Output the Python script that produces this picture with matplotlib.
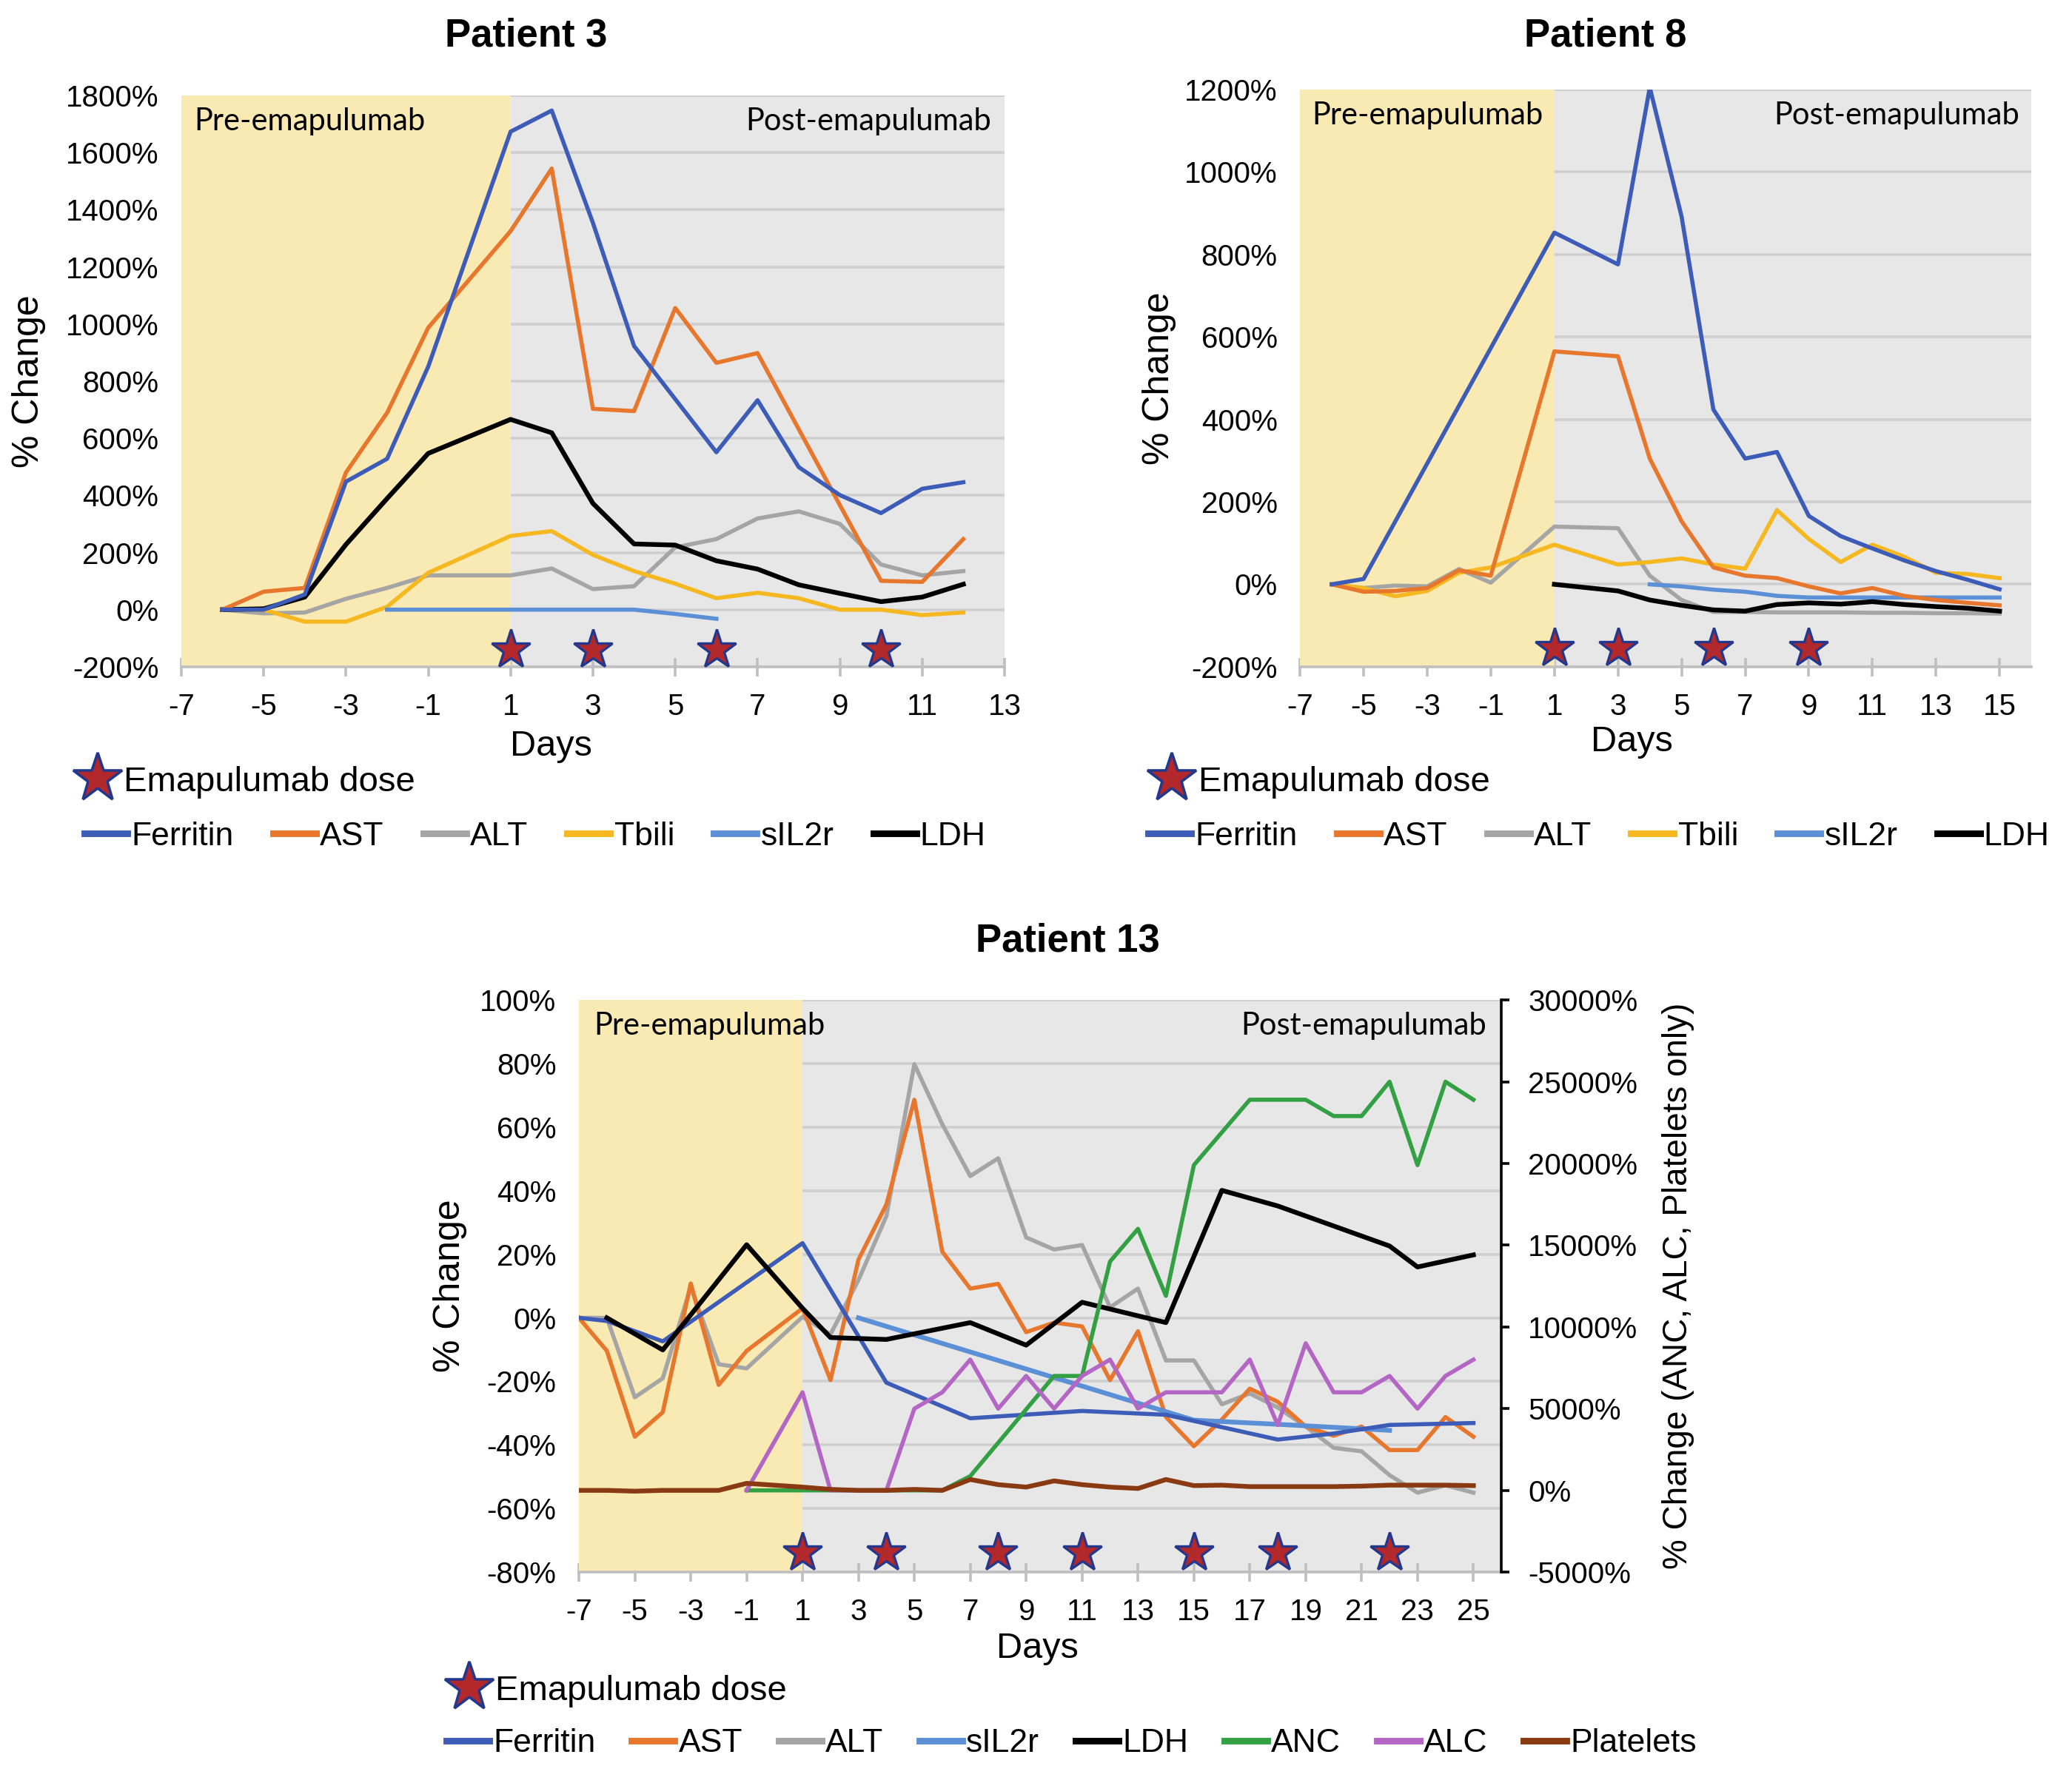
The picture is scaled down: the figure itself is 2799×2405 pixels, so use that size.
import matplotlib.pyplot as plt
from matplotlib.lines import Line2D
from matplotlib.ticker import FuncFormatter

plt.rcParams['font.family'] = ['Liberation Sans', 'DejaVu Sans']
plt.rcParams['axes.unicode_minus'] = False

# colours (Excel-like palette)
COLORS = {
    'Ferritin': '#3D5CB8',
    'AST': '#E8772E',
    'ALT': '#A5A5A5',
    'Tbili': '#F5B820',
    'sIL2r': '#5B8FD6',
    'LDH': '#000000',
    'ANC': '#32A043',
    'ALC': '#B366C4',
    'Platelets': '#8A3A12',
}
PRE_COLOR = '#F9E9B2'
POST_COLOR = '#E7E7E7'
GRID_COLOR = '#CFCFCF'
STAR_FACE = '#B3282A'
STAR_EDGE = '#23388C'

# ---------------- Patient 3 ----------------
p3_days = [-6, -5, -4, -3, -2, -1, 1, 2, 3, 4, 5, 6, 7, 8, 9, 10, 11, 12]
p3_ferritin = [0, 0, 53, 448, 528, 851, 1673, 1747, 1354, 923, 737, 551, 733, 499, 401, 338, 423, 446]
p3_ast = [0, 63, 76, 480, 689, 987, 1325, 1544, 703, 695, 1056, 864, 898, 632, 366, 101, 97, 247]
p3_alt = [0, -13, -10, 38, 76, 120, 120, 144, 72, 82, 218, 247, 319, 344, 300, 158, 120, 135]
p3_tbili = [0, 0, -42, -42, 10, 129, 258, 275, 192, 135, 91, 40, 59, 40, 0, 0, -19, -10]
p3_ldh = [0, 3, 44, 228, 389, 547, 666, 619, 372, 230, 226, 171, 142, 87, 57, 28, 44, 89]
p3_sil2r_days = [-2, 4, 5, 6]
p3_sil2r = [0, 0, -15, -32]
p3_doses = [1, 3, 6, 10]

# ---------------- Patient 8 ----------------
p8_ferritin_days = [-6, -5, 1, 3, 4, 5, 6, 7, 8, 9, 10, 11, 12, 13, 14, 15]
p8_ferritin = [0, 13, 853, 776, 1205, 892, 424, 305, 321, 166, 117, 87, 58, 32, 11, -12]
p8_days = [-6, -5, -4, -3, -2, -1, 1, 3, 4, 5, 6, 7, 8, 9, 10, 11, 12, 13, 14, 15]
p8_ast = [0, -18, -16, -9, 34, 21, 565, 553, 305, 153, 41, 21, 15, -5, -22, -9, -28, -38, -45, -51]
p8_alt = [0, -9, -3, -5, 37, 4, 140, 136, 21, -38, -67, -67, -68, -68, -68, -69, -69, -70, -70, -71]
p8_tbili = [0, -9, -29, -16, 28, 41, 96, 48, 54, 63, 48, 38, 180, 110, 54, 96, 67, 28, 25, 15]
p8_sil2r_days = [4, 5, 6, 7, 8, 9, 10, 11, 12, 13, 14, 15]
p8_sil2r = [0, -5, -13, -18, -28, -32, -32, -32, -32, -32, -32, -32]
p8_ldh_days = [1, 2, 3, 4, 5, 6, 7, 8, 9, 10, 11, 12, 13, 14, 15]
p8_ldh = [0, -8, -16, -38, -51, -62, -65, -49, -45, -48, -42, -49, -54, -58, -65]
p8_doses = [1, 3, 6, 9]

# ---------------- Patient 13 ----------------
p13_days = [-7, -6, -5, -4, -3, -2, -1, 1, 2, 3, 4, 5, 6, 7, 8, 9, 10, 11, 12,
            13, 14, 15, 16, 17, 18, 19, 20, 21, 22, 23, 24, 25]
p13_ast = [0, -10.4, -37.4, -29.7, 10.8, -21.1, -10.4, 3, -19.6, 18.3, 35.7, 68.6, 20.8, 9.2,
           10.7, -4.5, -1.5, -2.7, -19.6, -4.2, -31.2, -40.4, -32, -22.3, -26.4, -34.2, -37.1,
           -34.2, -41.6, -41.6, -31.2, -37.4]
p13_alt = [0, 0, -25, -19, 9.7, -14.6, -15.9, 0.3, -5.2, 11.9, 32, 79.8, 60.9, 44.6, 50.2,
           25.3, 21.5, 22.9, 3.3, 9.2, -13.4, -13.4, -27.2, -23.8, -28.2, -34.2, -40.9, -42,
           -49.5, -55, -52.7, -55]
p13_ferritin_days = [-7, -6, -4, 1, 4, 7, 11, 14, 18, 20, 22, 25]
p13_ferritin = [0, -1, -7.4, 23.5, -20.4, -31.6, -29.3, -30.5, -38.3, -36.4, -33.7, -33.1]
p13_sil2r_days = [3, 15, 18, 22]
p13_sil2r = [0, -32.2, -33.5, -35.4]
p13_ldh_days = [-6, -4, -1, 1, 2, 4, 7, 9, 11, 14, 16, 18, 22, 23, 25]
p13_ldh = [0, -10.1, 23, 3, -6.2, -6.8, -1.5, -8.6, 4.9, -1.5, 40.1, 35.2, 22.6, 16, 19.8]
# right axis series
p13_anc_days = [-1, 6, 7, 10, 11, 12, 13, 14, 15, 17, 18, 19, 20, 21, 22, 23, 24, 25]
p13_anc = [0, 0, 870, 7000, 7000, 14000, 16000, 11900, 19900, 23900, 23900, 23900,
           22900, 22900, 25000, 19900, 25000, 23900]
p13_alc_days = [-1, 1, 2, 3, 4, 5, 6, 7, 8, 9, 10, 11, 12, 13, 14, 15, 16, 17, 18, 19,
                20, 21, 22, 23, 24, 25]
p13_alc = [0, 6000, 0, 0, 0, 5000, 6000, 8000, 5000, 7000, 5000, 7000, 8000, 5000, 6000,
           6000, 6000, 8000, 4000, 9000, 6000, 6000, 7000, 5000, 7000, 8000]
p13_platelets = [0, 0, -50, 0, 0, 0, 430, 200, 60, 0, 0, 60, 0, 665, 350, 200, 580, 350, 200,
                 116, 665, 290, 320, 230, 230, 230, 230, 260, 320, 320, 320, 290]
p13_doses = [1, 4, 8, 11, 15, 18, 22]

LW = 2.0
pct = FuncFormatter(lambda v, _: f'{v:.0f}%')


def style_axes(ax, xmax, ylim, yticks, xticks, star_y, doses):
    ax.set_facecolor(POST_COLOR)
    ax.axvspan(-7, 1, color=PRE_COLOR, lw=0, zorder=1)
    ax.set_xlim(-7, xmax)
    ax.set_ylim(*ylim)
    ax.set_yticks(yticks)
    ax.set_xticks(xticks)
    ax.yaxis.set_major_formatter(pct)
    ax.set_axisbelow(True)
    ax.yaxis.grid(True, color=GRID_COLOR, lw=1.3)
    for s in ['left', 'right', 'top']:
        ax.spines[s].set_visible(False)
    ax.spines['bottom'].set_color('#BFBFBF')
    ax.spines['bottom'].set_linewidth(1.3)
    ax.tick_params(axis='y', length=0, pad=11, labelsize=14.5)
    ax.tick_params(axis='x', direction='inout', length=9, color='#BFBFBF', width=1.3,
                   pad=8, labelsize=14.5)
    ax.plot(doses, [star_y] * len(doses), ls='none', marker='*', ms=20,
            mfc=STAR_FACE, mec=STAR_EDGE, mew=1.2, zorder=6, clip_on=False)
    ax.text(0.016, 0.955, 'Pre-emapulumab', transform=ax.transAxes, family='Lato',
            fontsize=15, ha='left', va='center', zorder=7)
    ax.text(0.984, 0.955, 'Post-emapulumab', transform=ax.transAxes, family='Lato',
            fontsize=15, ha='right', va='center', zorder=7)


def add_legends(fig, names, row_x, row_y, star_x, star_y, colspace):
    handles = [Line2D([0], [0], color=COLORS[n], lw=3.2) for n in names]
    fig.legend(handles, names, loc='center', bbox_to_anchor=(row_x, row_y), ncol=len(names),
               frameon=False, fontsize=16, handlelength=1.3, handletextpad=0.12,
               columnspacing=colspace, borderaxespad=0, borderpad=0)
    star = Line2D([0], [0], ls='none', marker='*', ms=25, mfc=STAR_FACE, mec=STAR_EDGE, mew=1.3)
    fig.legend([star], ['Emapulumab dose'], loc='center left', bbox_to_anchor=(star_x, star_y),
               frameon=False, fontsize=17, handlelength=0.9, handletextpad=0.3,
               borderaxespad=0, borderpad=0)


fig = plt.figure(figsize=(13.995, 12.025), dpi=200)

# ---- Patient 3 ----
ax3 = fig.add_axes([0.0875, 0.6254, 0.3973, 0.3210])
style_axes(ax3, 13, (-200, 1800), range(-200, 1801, 200), range(-7, 14, 2), -140, p3_doses)
ax3.plot(p3_days, p3_alt, color=COLORS['ALT'], lw=LW, zorder=3)
ax3.plot(p3_days, p3_tbili, color=COLORS['Tbili'], lw=LW, zorder=3)
ax3.plot(p3_sil2r_days, p3_sil2r, color=COLORS['sIL2r'], lw=LW, zorder=3)
ax3.plot(p3_days, p3_ldh, color=COLORS['LDH'], lw=LW + 0.3, zorder=3)
ax3.plot(p3_days, p3_ast, color=COLORS['AST'], lw=LW, zorder=3)
ax3.plot(p3_days, p3_ferritin, color=COLORS['Ferritin'], lw=LW, zorder=3)
ax3.set_ylabel('% Change', fontsize=18, va='center')
ax3.yaxis.set_label_coords(-0.185, 0.5)
ax3.set_xlabel('Days', fontsize=17.5, va='center')
ax3.xaxis.set_label_coords(0.449, -0.139)
fig.text(0.2538, 0.980, 'Patient 3', fontsize=19, fontweight='bold', ha='center', va='center')
add_legends(fig, ['Ferritin', 'AST', 'ALT', 'Tbili', 'sIL2r', 'LDH'],
            0.2583, 0.530, 0.0395, 0.5605, 1.2)

# ---- Patient 8 ----
ax8 = fig.add_axes([0.6274, 0.6254, 0.3530, 0.3243])
style_axes(ax8, 16, (-200, 1200), range(-200, 1201, 200), range(-7, 16, 2), -155, p8_doses)
ax8.plot(p8_days, p8_alt, color=COLORS['ALT'], lw=LW, zorder=3)
ax8.plot(p8_days, p8_tbili, color=COLORS['Tbili'], lw=LW, zorder=3)
ax8.plot(p8_sil2r_days, p8_sil2r, color=COLORS['sIL2r'], lw=LW, zorder=3)
ax8.plot(p8_ldh_days, p8_ldh, color=COLORS['LDH'], lw=LW + 0.3, zorder=3)
ax8.plot(p8_days, p8_ast, color=COLORS['AST'], lw=LW, zorder=3)
ax8.plot(p8_ferritin_days, p8_ferritin, color=COLORS['Ferritin'], lw=LW, zorder=3)
ax8.set_ylabel('% Change', fontsize=18, va='center')
ax8.yaxis.set_label_coords(-0.192, 0.5)
ax8.set_xlabel('Days', fontsize=17.5, va='center')
ax8.xaxis.set_label_coords(0.454, -0.130)
fig.text(0.775, 0.980, 'Patient 8', fontsize=19, fontweight='bold', ha='center', va='center')
add_legends(fig, ['Ferritin', 'AST', 'ALT', 'Tbili', 'sIL2r', 'LDH'],
            0.7717, 0.530, 0.558, 0.5605, 1.2)

# ---- Patient 13 ----
ax13 = fig.add_axes([0.2794, 0.1168, 0.4452, 0.3214])
style_axes(ax13, 26, (-80, 100), range(-80, 101, 20), range(-7, 26, 2), -74, p13_doses)
ax13.plot(p13_days, p13_alt, color=COLORS['ALT'], lw=LW, zorder=3)
ax13.plot(p13_days, p13_ast, color=COLORS['AST'], lw=LW, zorder=3)
ax13.plot(p13_sil2r_days, p13_sil2r, color=COLORS['sIL2r'], lw=LW + 0.3, zorder=3)
ax13.plot(p13_ferritin_days, p13_ferritin, color=COLORS['Ferritin'], lw=LW, zorder=3)
ax13.plot(p13_ldh_days, p13_ldh, color=COLORS['LDH'], lw=LW + 0.3, zorder=3)
ax13.set_ylabel('% Change', fontsize=18, va='center')
ax13.yaxis.set_label_coords(-0.140, 0.5)
ax13.set_xlabel('Days', fontsize=17.5, va='center')
ax13.xaxis.set_label_coords(0.497, -0.134)

ax13r = ax13.twinx()
ax13r.set_ylim(-5000, 30000)
ax13r.set_yticks(range(-5000, 30001, 5000))
ax13r.yaxis.set_major_formatter(pct)
for s in ['left', 'top', 'bottom']:
    ax13r.spines[s].set_visible(False)
ax13r.spines['right'].set_color('black')
ax13r.spines['right'].set_linewidth(1.3)
ax13r.tick_params(axis='y', direction='out', length=4, width=1.3, pad=9, labelsize=14.5)
ax13r.plot(p13_anc_days, p13_anc, color=COLORS['ANC'], lw=LW, zorder=3)
ax13r.plot(p13_alc_days, p13_alc, color=COLORS['ALC'], lw=LW, zorder=3)
ax13r.plot(p13_days, p13_platelets, color=COLORS['Platelets'], lw=LW + 0.3, zorder=3)
ax13r.set_ylabel('% Change (ANC, ALC, Platelets only)', fontsize=16.5, rotation=90, va='center')
ax13r.yaxis.set_label_coords(1.192, 0.5)

fig.text(0.5153, 0.4715, 'Patient 13', fontsize=19, fontweight='bold', ha='center', va='center')
add_legends(fig, ['Ferritin', 'AST', 'ALT', 'sIL2r', 'LDH', 'ANC', 'ALC', 'Platelets'],
            0.5172, 0.0204, 0.2188, 0.050, 1.1)

fig.savefig('out.png', dpi=200, facecolor='white')
